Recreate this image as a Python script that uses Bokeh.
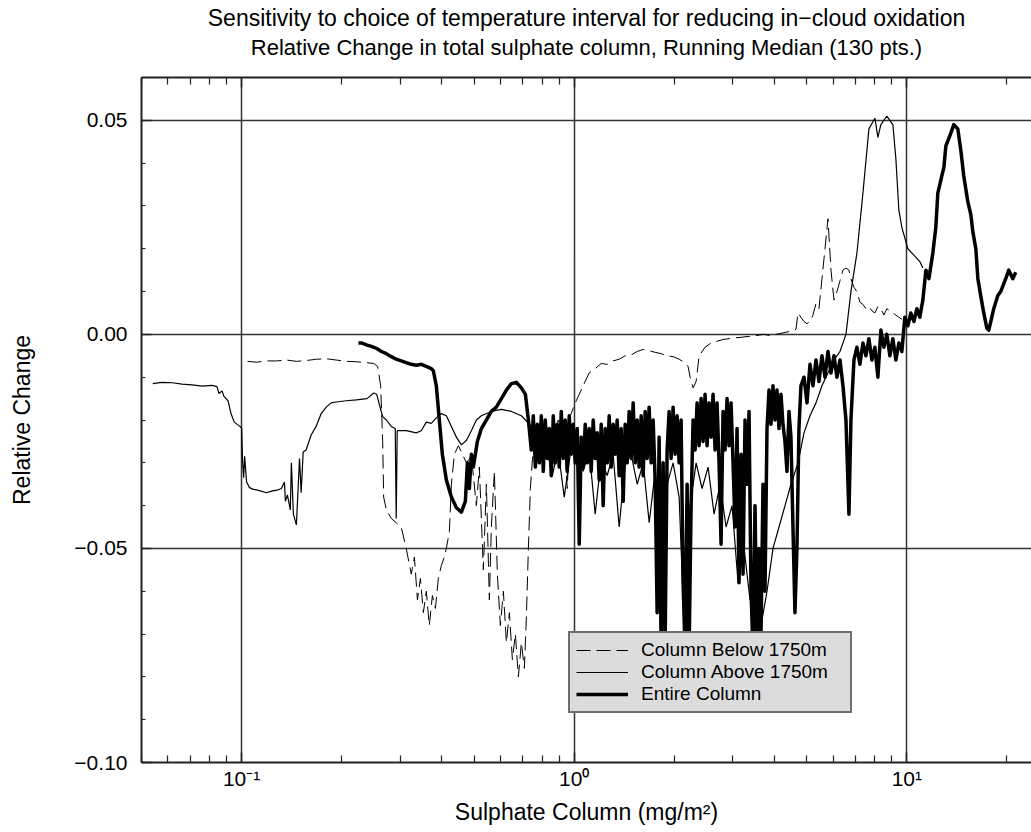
from bokeh.plotting import figure
from bokeh.models import (LogAxis, FixedTicker, Title, Legend, LegendItem, Range1d)
from bokeh.embed import file_html
from bokeh.resources import INLINE

# ---- data (x: sulphate column mg/m2, y: relative change) ----
above_x = [0.0541, 0.0576, 0.0619, 0.0662, 0.0710, 0.0760, 0.0815, 0.0843, 0.0855, 0.0873,
           0.0885, 0.0910, 0.0929, 0.0950, 0.0977, 0.1000, 0.1007, 0.1014, 0.1021, 0.1035,
           0.1056, 0.1086, 0.1131, 0.1187, 0.1231, 0.1278, 0.1317, 0.1345, 0.1354, 0.1373,
           0.1401, 0.1411, 0.1431, 0.1461, 0.1493, 0.1510, 0.1531, 0.1563, 0.1618, 0.1675,
           0.1735, 0.1796, 0.1859, 0.1925, 0.2063, 0.2212, 0.2382, 0.2496, 0.2548, 0.2618,
           0.2655, 0.2724, 0.2818, 0.2896, 0.2916, 0.2936, 0.3125, 0.3350, 0.3468, 0.3591,
           0.3718, 0.3849, 0.3985, 0.4126, 0.4272, 0.4423, 0.4579, 0.4739, 0.4906, 0.5079,
           0.5258, 0.5634, 0.6039, 0.6472, 0.6935, 0.7433,
           0.758, 0.790, 0.824, 0.859, 0.895, 0.933, 0.973, 1.014, 1.064, 1.109,
           1.156, 1.205, 1.256, 1.309, 1.365, 1.423, 1.483, 1.546, 1.612, 1.680,
           1.751, 1.825, 1.902, 1.983, 2.067, 2.140, 2.230, 2.325, 2.423, 2.526,
           2.633, 2.745, 2.861, 2.982, 3.108, 3.240, 3.377, 3.520, 3.644, 3.798,
           3.959, 4.127, 4.302, 4.484, 4.707, 4.906, 5.114, 5.331, 5.556, 5.792,
           6.038, 6.294, 6.560, 6.790, 7.078, 7.378, 7.690, 8.015, 8.183, 8.355,
           8.708, 9.077, 9.268, 9.462, 9.660, 10.07, 10.50, 10.94, 11.17]
above_y = [-0.0115, -0.0112, -0.0113, -0.0116, -0.0118, -0.0121, -0.0119, -0.0122, -0.0138, -0.0132,
           -0.0145, -0.0155, -0.0185, -0.0205, -0.0212, -0.0218, -0.0300, -0.0335, -0.0285, -0.0345,
           -0.0358, -0.0362, -0.0365, -0.0370, -0.0366, -0.0364, -0.0360, -0.0345, -0.0390, -0.0375,
           -0.0410, -0.0300, -0.0420, -0.0445, -0.0290, -0.0370, -0.0275, -0.0270, -0.0235, -0.0215,
           -0.0185, -0.0170, -0.0160, -0.0158, -0.0155, -0.0153, -0.0150, -0.0137, -0.0140, -0.0175,
           -0.0192, -0.0200, -0.0215, -0.0220, -0.0430, -0.0225, -0.0225, -0.0230, -0.0225, -0.0205,
           -0.0208, -0.0195, -0.0185, -0.0190, -0.0215, -0.0240, -0.0258, -0.0248, -0.0225, -0.0200,
           -0.0190, -0.0180, -0.0175, -0.0180, -0.0190, -0.0215,
           -0.0250, -0.0300, -0.0260, -0.0330, -0.0270, -0.0380, -0.0280, -0.0250, -0.0320, -0.0270,
           -0.0420, -0.0290, -0.0330, -0.0280, -0.0450, -0.0300, -0.0280, -0.0350, -0.0300, -0.0440,
           -0.0320, -0.0650, -0.0350, -0.0300, -0.0380, -0.0680, -0.0400, -0.0300, -0.0360, -0.0310,
           -0.0420, -0.0350, -0.0450, -0.0400, -0.0580, -0.0500, -0.0620, -0.0560, -0.0680, -0.0600,
           -0.0500, -0.0450, -0.0400, -0.0350, -0.0300, -0.0230, -0.0190, -0.0160, -0.0120, -0.0090,
           -0.0060, -0.0040, 0.0000, 0.0100, 0.0190, 0.0330, 0.0480, 0.0505, 0.0460, 0.0490,
           0.0510, 0.0490, 0.0410, 0.0290, 0.0250, 0.0200, 0.0185, 0.0170, 0.0155]

below_x = [0.1042, 0.1109, 0.1189, 0.1274, 0.1365, 0.1463, 0.1567, 0.1680, 0.1800, 0.1929,
           0.2066, 0.2215, 0.2373, 0.2496, 0.2565, 0.2618, 0.2655, 0.2673, 0.2724, 0.2818,
           0.2916, 0.3018, 0.3125, 0.3236, 0.3307, 0.3377, 0.3448, 0.3519, 0.3591, 0.3666,
           0.3746, 0.3825, 0.3903, 0.3985, 0.4069, 0.4126, 0.4213, 0.4272, 0.4362, 0.4485,
           0.4579, 0.4739, 0.4906, 0.5079, 0.5185, 0.5331, 0.5443, 0.5557, 0.5634, 0.5753,
           0.5874, 0.5997, 0.6123, 0.6252, 0.6383, 0.6517, 0.6654, 0.6793, 0.6935, 0.7081,
           0.7180, 0.7280, 0.7381, 0.7535, 0.774, 0.790, 0.824, 0.859, 0.895, 0.933,
           0.953, 0.973, 1.014, 1.064, 1.109, 1.156, 1.205, 1.256, 1.309, 1.365,
           1.423, 1.483, 1.546, 1.612, 1.680, 1.751, 1.825, 1.902, 1.983, 2.067,
           2.140, 2.199, 2.230, 2.277, 2.325, 2.374, 2.474, 2.579, 2.688, 2.802,
           2.921, 3.044, 3.173, 3.308, 3.448, 3.569, 3.720, 3.878, 4.042, 4.213,
           4.392, 4.578, 4.642, 4.707, 4.805, 4.906, 5.009, 5.114, 5.221, 5.331,
           5.442, 5.556, 5.674, 5.792, 5.914, 6.038, 6.164, 6.294, 6.425, 6.560,
           6.697, 6.790, 6.933, 7.078, 7.226, 7.378, 7.532, 7.690, 7.851, 8.015,
           8.183, 8.355, 8.530, 8.708, 8.891, 9.077, 9.268, 9.462, 9.660]
below_y = [-0.0063, -0.0065, -0.0062, -0.0062, -0.0060, -0.0063, -0.0061, -0.0058, -0.0057, -0.0060,
           -0.0063, -0.0064, -0.0066, -0.0068, -0.0075, -0.0120, -0.0250, -0.0380, -0.0410, -0.0430,
           -0.0440, -0.0450, -0.0500, -0.0560, -0.0520, -0.0620, -0.0570, -0.0650, -0.0600, -0.0680,
           -0.0610, -0.0640, -0.0570, -0.0540, -0.0520, -0.0500, -0.0460, -0.0350, -0.0280, -0.0260,
           -0.0275, -0.0300, -0.0285, -0.0400, -0.0310, -0.0550, -0.0350, -0.0620, -0.0450, -0.0320,
           -0.0560, -0.0680, -0.0600, -0.0720, -0.0650, -0.0760, -0.0700, -0.0800, -0.0720, -0.0780,
           -0.0660, -0.0500, -0.0360, -0.0260, -0.0230, -0.0280, -0.0220, -0.0250, -0.0200, -0.0240,
           -0.0360, -0.0190, -0.0155, -0.0120, -0.0090, -0.0080, -0.0068, -0.0070, -0.0062, -0.0058,
           -0.0050, -0.0048, -0.0040, -0.0035, -0.0038, -0.0042, -0.0045, -0.0050, -0.0052, -0.0058,
           -0.0065, -0.0075, -0.0100, -0.0125, -0.0110, -0.0050, -0.0030, -0.0020, -0.0016, -0.0012,
           -0.0010, -0.0008, -0.0007, -0.0005, -0.0004, -0.0002, 0.0000, -0.0003, 0.0000, 0.0003,
           0.0006, 0.0009, 0.0012, 0.0050, 0.0040, 0.0030, 0.0025, 0.0030, 0.0045, 0.0072,
           0.0060, 0.0130, 0.0200, 0.0270, 0.0150, 0.0080, 0.0100, 0.0125, 0.0150, 0.0155,
           0.0150, 0.0130, 0.0110, 0.0100, 0.0075, 0.0070, 0.0060, 0.0065, 0.0055, 0.0050,
           0.0065, 0.0060, 0.0045, 0.0060, 0.0055, 0.0050, 0.0045, 0.0040, 0.0035]

entire_x = [0.2245, 0.2293, 0.2382, 0.2457, 0.2548, 0.2633, 0.2724, 0.2818, 0.2916, 0.3018,
            0.3125, 0.3236, 0.3350, 0.3468, 0.3591, 0.3718, 0.3770, 0.3849, 0.3930, 0.4013,
            0.4126, 0.4272, 0.4423, 0.4579, 0.4706, 0.4773, 0.4838, 0.4906, 0.4974, 0.5114,
            0.5258, 0.5443, 0.5634, 0.5833, 0.6039, 0.6252, 0.6472, 0.6700, 0.6935, 0.7130,
            0.7280,
            0.7430, 0.7533, 0.7638, 0.7743, 0.7851, 0.7960, 0.8071, 0.8183, 0.8297, 0.8413,
            0.8530, 0.8649, 0.8769, 0.8891, 0.9015, 0.9141, 0.9268, 0.9397, 0.9528, 0.9660,
            0.9795, 0.9931, 1.0069, 1.0210, 1.0352, 1.0496, 1.0642, 1.0790, 1.0940, 1.1093,
            1.1247, 1.1404, 1.1563, 1.1724, 1.1887, 1.2053, 1.2220, 1.2391, 1.2563, 1.2738,
            1.2915, 1.3095, 1.3278, 1.3462, 1.3650, 1.3840, 1.4033, 1.4228, 1.4426, 1.4627,
            1.4831, 1.5037, 1.5247, 1.5459, 1.5674, 1.5893, 1.6114, 1.6338, 1.6566, 1.6796,
            1.7030, 1.7267, 1.7508, 1.7751, 1.7998, 1.8249, 1.8503, 1.8761, 1.9022, 1.9287,
            1.9555, 1.9827, 2.0104, 2.0383, 2.0667, 2.0955, 2.1247, 2.1544, 2.1844, 2.2148,
            2.2456, 2.2769, 2.3086, 2.3407, 2.3733, 2.4064, 2.4399, 2.4739, 2.5083, 2.5432,
            2.5786, 2.6145, 2.6509, 2.6878, 2.7252, 2.7632, 2.8017, 2.8407, 2.8802, 2.9203,
            2.9610, 3.0022, 3.0440, 3.0864, 3.1294, 3.1729, 3.2171, 3.2619, 3.3073, 3.3534,
            3.4000, 3.4474, 3.4954, 3.5440, 3.5934, 3.6434, 3.6941, 3.7456, 3.7977, 3.8506,
            3.9042, 3.9586, 4.0137, 4.0696, 4.1262, 4.1836, 4.2419, 4.3009, 4.3608, 4.4215,
            4.4831, 4.5455, 4.6087, 4.6729, 4.7380, 4.8039,
            4.906, 5.009, 5.114, 5.221, 5.331, 5.442, 5.556, 5.674, 5.792, 5.914,
            6.038, 6.164, 6.294, 6.425, 6.560, 6.697, 6.790, 6.933, 7.078, 7.226,
            7.378, 7.532, 7.690, 7.851, 8.015, 8.183, 8.355, 8.530, 8.708, 8.891,
            9.077, 9.268, 9.462, 9.660, 9.863, 10.07, 10.28, 10.50, 10.72, 10.94,
            11.17, 11.41, 11.65, 11.97, 12.22, 12.39, 12.65, 12.92, 13.10, 13.56,
            13.84, 14.23, 14.53, 14.83, 15.25, 15.57, 15.79, 16.12, 16.35, 16.68,
            17.03, 17.39, 17.63, 17.88, 18.25, 18.76, 19.15, 19.83, 20.25, 20.82,
            21.25]
entire_y = [-0.0020, -0.0020, -0.0025, -0.0028, -0.0033, -0.0040, -0.0045, -0.0052, -0.0058, -0.0062,
            -0.0066, -0.0070, -0.0072, -0.0070, -0.0075, -0.0080, -0.0085, -0.0120, -0.0200, -0.0280,
            -0.0340, -0.0380, -0.0405, -0.0415, -0.0390, -0.0300, -0.0360, -0.0280, -0.0310, -0.0250,
            -0.0220, -0.0200, -0.0180, -0.0170, -0.0150, -0.0130, -0.0115, -0.0112, -0.0125, -0.0140,
            -0.0200,
            -0.027, -0.019, -0.031, -0.021, -0.030, -0.019, -0.032, -0.020, -0.029, -0.022,
            -0.033, -0.019, -0.030, -0.021, -0.031, -0.018, -0.029, -0.020, -0.032, -0.019,
            -0.028, -0.021, -0.030, -0.022, -0.049, -0.024, -0.031, -0.021, -0.030, -0.022,
            -0.032, -0.020, -0.029, -0.023, -0.034, -0.021, -0.040, -0.022, -0.030, -0.019,
            -0.031, -0.021, -0.028, -0.020, -0.033, -0.022, -0.039, -0.021, -0.030, -0.018,
            -0.029, -0.016, -0.030, -0.020, -0.031, -0.019, -0.033, -0.018, -0.029, -0.017,
            -0.030, -0.020, -0.034, -0.065, -0.024, -0.074, -0.030, -0.072, -0.027, -0.018,
            -0.029, -0.017, -0.028, -0.019, -0.030, -0.020, -0.058, -0.074, -0.035, -0.074,
            -0.040, -0.020, -0.027, -0.016, -0.026, -0.015, -0.025, -0.014, -0.026, -0.016,
            -0.024, -0.014, -0.027, -0.016, -0.030, -0.049, -0.018, -0.027, -0.015, -0.026,
            -0.016, -0.030, -0.045, -0.022, -0.058, -0.028, -0.056, -0.020, -0.035, -0.018,
            -0.060, -0.074, -0.040, -0.074, -0.050, -0.070, -0.035, -0.060, -0.022, -0.013,
            -0.021, -0.012, -0.020, -0.013, -0.022, -0.014, -0.021, -0.025, -0.032, -0.018,
            -0.024, -0.045, -0.065, -0.050, -0.022, -0.012,
            -0.0100, -0.0160, -0.0070, -0.0120, -0.0060, -0.0110, -0.0050, -0.0100, -0.0040, -0.0090,
            -0.0050, -0.0100, -0.0060, -0.0120, -0.0200, -0.0420, -0.0200, -0.0060, -0.0030, -0.0070,
            -0.0020, -0.0050, -0.0010, -0.0060, -0.0030, -0.0100, 0.0010, -0.0030, 0.0000, -0.0050,
            -0.0010, -0.0060, -0.0020, -0.0040, 0.0040, 0.0020, 0.0050, 0.0030, 0.0060, 0.0040,
            0.0080, 0.0150, 0.0130, 0.0190, 0.0250, 0.0330, 0.0360, 0.0390, 0.0440, 0.0470,
            0.0490, 0.0480, 0.0430, 0.0370, 0.0310, 0.0280, 0.0240, 0.0200, 0.0130, 0.0090,
            0.0050, 0.0015, 0.0010, 0.0030, 0.0060, 0.0090, 0.0100, 0.0130, 0.0150, 0.0130,
            0.0145]

x_major = [0.1, 1.0, 10.0]
x_minor = [0.05, 0.06, 0.07, 0.08, 0.09, 0.2, 0.3, 0.4, 0.5, 0.6, 0.7, 0.8, 0.9,
           2.0, 3.0, 4.0, 5.0, 6.0, 7.0, 8.0, 9.0, 20.0]
x_labels = {0.1: "10\u207b\u00b9", 1.0: "10\u2070", 10.0: "10\u00b9"}
y_major = [-0.10, -0.05, 0.0, 0.05]
y_minor = [-0.09, -0.08, -0.07, -0.06, -0.04, -0.03, -0.02, -0.01,
           0.01, 0.02, 0.03, 0.04, 0.06]
y_labels = {-0.10: "\u22120.10", -0.05: "\u22120.05", 0.0: "0.00", 0.05: "0.05"}

title = "Sensitivity to choice of temperature interval for reducing in\u2212cloud oxidation"
subtitle = "Relative Change in total sulphate column, Running Median (130 pts.)"

FONT = "Liberation Sans"

p = figure(width=1031, height=832, x_axis_type="log",
           x_range=Range1d(0.05, 23.7), y_range=Range1d(-0.10, 0.06),
           output_backend="svg", toolbar_location=None,
           min_border_left=141, min_border_right=0, min_border_top=77, min_border_bottom=70)
p.outline_line_color = None
p.background_fill_color = "white"
p.border_fill_color = "white"

xt = FixedTicker(ticks=x_major, minor_ticks=x_minor)
yt = FixedTicker(ticks=y_major, minor_ticks=y_minor)

xa = p.xaxis[0]
xa.ticker = xt
xa.major_label_overrides = x_labels
ya = p.yaxis[0]
ya.ticker = yt
ya.major_label_overrides = y_labels

top = LogAxis(ticker=FixedTicker(ticks=x_major, minor_ticks=x_minor))
top.major_label_text_alpha = 0.0
top.major_label_text_font_size = "8px"
top.major_label_standoff = 0
p.add_layout(top, "above")

for ax in [xa, ya, top]:
    ax.axis_line_color = "#222222"
    ax.axis_line_width = 2
    ax.major_tick_in = 10
    ax.major_tick_out = 0
    ax.minor_tick_in = 7
    ax.minor_tick_out = 0
    ax.major_tick_line_color = "#222222"
    ax.minor_tick_line_color = "#222222"
    ax.major_tick_line_width = 1.5
    ax.minor_tick_line_width = 1.2
    ax.major_label_text_font = FONT
    ax.axis_label_text_font = FONT
    ax.axis_label_text_font_style = "normal"
    ax.axis_label_text_color = "black"
ya.minor_tick_in = 4

xa.major_label_text_font_size = "21px"
xa.major_label_text_color = "black"
xa.major_label_standoff = 4
xa.axis_label = "Sulphate Column (mg/m\u00b2)"
xa.axis_label_text_font_size = "23px"
xa.axis_label_standoff = 6

ya.major_label_text_font_size = "21px"
ya.major_label_text_color = "black"
ya.major_label_standoff = 14
ya.axis_label = "Relative Change"
ya.axis_label_text_font_size = "23px"
ya.axis_label_standoff = 36

p.xgrid.ticker = xt
p.ygrid.ticker = yt
for g in [p.xgrid, p.ygrid]:
    g.grid_line_color = "#333333"
    g.grid_line_width = 1.5
    g.grid_line_alpha = 1.0

r_below = p.line(below_x, below_y, line_color="black", line_width=1.0, line_dash="14 6")
r_above = p.line(above_x, above_y, line_color="black", line_width=1.2)
r_entire = p.line(entire_x, entire_y, line_color="black", line_width=3.5,
                  line_join="round")

legend = Legend(items=[LegendItem(label="Column Below 1750m", renderers=[r_below]),
                       LegendItem(label="Column Above 1750m", renderers=[r_above]),
                       LegendItem(label="Entire Column", renderers=[r_entire])],
                location=(427, 49))
legend.background_fill_color = "#dcdcdc"
legend.background_fill_alpha = 1.0
legend.border_line_color = "black"
legend.border_line_width = 2
legend.label_text_font = FONT
legend.label_text_font_size = "19px"
legend.label_text_color = "black"
legend.glyph_width = 52
legend.glyph_height = 20
legend.label_standoff = 13
legend.label_height = 20
legend.label_width = 203
legend.padding = 6
legend.spacing = 0
legend.margin = 0
p.add_layout(legend, "center")

p.add_layout(Title(text=subtitle, align="center", text_font=FONT, text_font_size="22px",
                   text_font_style="normal", text_color="black", standoff=36), "above")
p.add_layout(Title(text=title, align="center", text_font=FONT, text_font_size="23px",
                   text_font_style="normal", text_color="black", standoff=-33), "above")

open("out.html", "w").write(file_html(p, INLINE))
